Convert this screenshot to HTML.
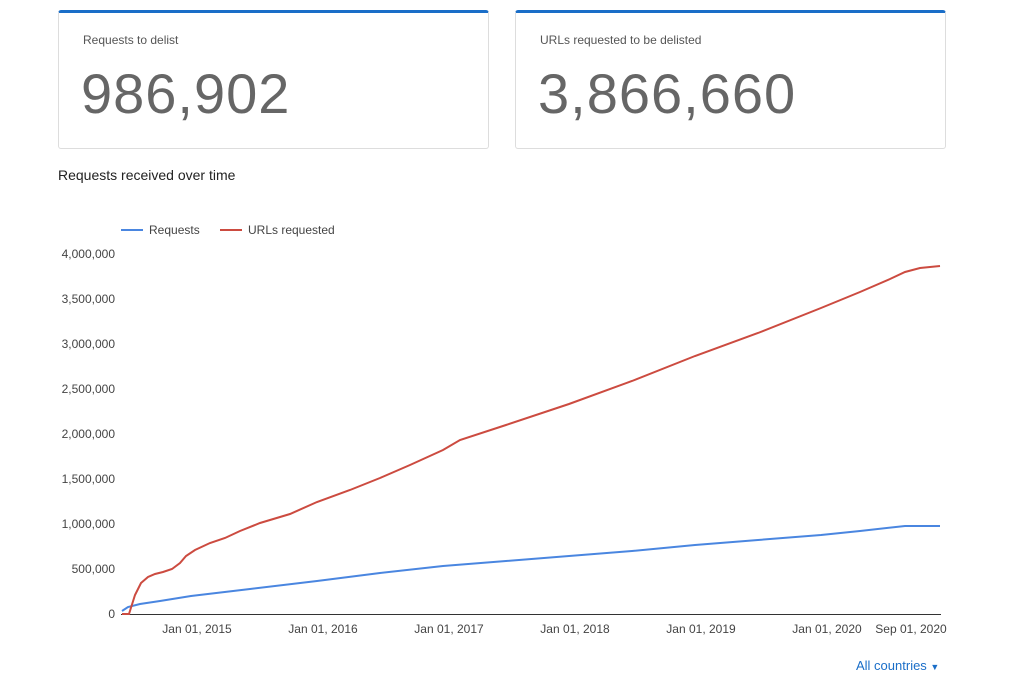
<!DOCTYPE html><html><head><style>
body{margin:0;width:1024px;height:678px;background:#fff;font-family:"Liberation Sans",sans-serif;position:relative;overflow:hidden}
.card{position:absolute;top:10px;width:431px;height:139px;border:1px solid #ddd;border-top:3px solid #1a6ec8;border-radius:3px;box-sizing:border-box}
.card .t{position:absolute;left:24px;top:20px;font-size:12px;color:#555}
.card .n{position:absolute;left:22px;top:48px;font-size:56px;letter-spacing:1px;color:#666}
</style></head><body>
<div class="card" style="left:58px"><div class="t">Requests to delist</div><div class="n">986,902</div></div>
<div class="card" style="left:515px"><div class="t">URLs requested to be delisted</div><div class="n">3,866,660</div></div>
<div style="position:absolute;left:58px;top:167px;font-size:14px;color:#222">Requests received over time</div>
<svg width="1024" height="678" style="position:absolute;left:0;top:0" font-family="Liberation Sans, sans-serif" font-size="12" fill="#444">
<line x1="121" y1="230" x2="143" y2="230" stroke="#4a86e0" stroke-width="2"/><text x="149" y="234">Requests</text>
<line x1="220" y1="230" x2="242" y2="230" stroke="#cc4b40" stroke-width="2"/><text x="248" y="234">URLs requested</text>
<g text-anchor="end">
<text x="115" y="258">4,000,000</text><text x="115" y="303">3,500,000</text><text x="115" y="348">3,000,000</text><text x="115" y="393">2,500,000</text><text x="115" y="438">2,000,000</text><text x="115" y="483">1,500,000</text><text x="115" y="528">1,000,000</text><text x="115" y="573">500,000</text><text x="115" y="618">0</text></g>
<line x1="121" y1="614.5" x2="941" y2="614.5" stroke="#333"/>
<g text-anchor="middle"><text x="197" y="633">Jan 01, 2015</text><text x="323" y="633">Jan 01, 2016</text><text x="449" y="633">Jan 01, 2017</text><text x="575" y="633">Jan 01, 2018</text><text x="701" y="633">Jan 01, 2019</text><text x="827" y="633">Jan 01, 2020</text><text x="911" y="633">Sep 01, 2020</text></g>
<polyline fill="none" stroke="#4a86e0" stroke-width="2" points="122,611 128,607 140,604 160,601 191,596 250,589 317,581 380,573 443,566 506,561 569,556 632,551 695,545 758,540 821,535 860,531 905,526 940,526"/>
<polyline fill="none" stroke="#cc4b40" stroke-width="2" points="122,614 129,614 135,595 141,583 148,577 155,574 163,572 172,569 180,563 186,556 195,550 210,543 225,538 240,531 260,523 290,514 317,502 350,490 380,478 410,465 443,450 460,440 506,425 569,404 632,381 695,356 758,333 821,308 860,292 890,279 905,272 920,268 940,266"/>
</svg>
<div style="position:absolute;left:856px;top:658px;font-size:13px;color:#1a6ec8">All countries <span style="font-size:9px">&#9660;</span></div>
</body></html>
